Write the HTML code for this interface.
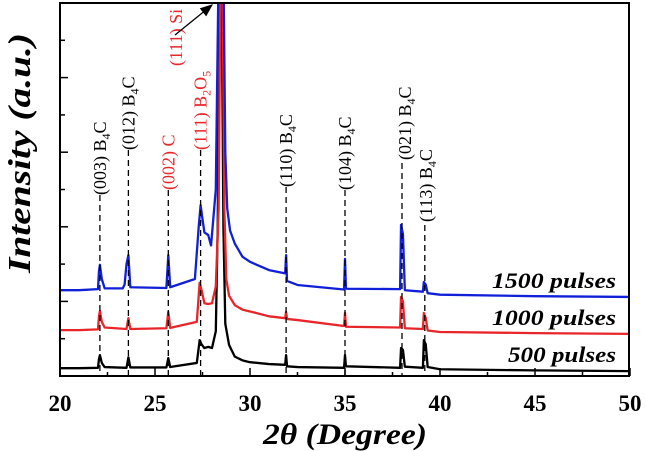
<!DOCTYPE html>
<html><head><meta charset="utf-8"><style>
body{margin:0;background:#fff;}
svg{display:block;font-family:"Liberation Serif",serif;}
</style></head><body>
<svg width="645" height="451" viewBox="0 0 645 451">
<defs><clipPath id="pc"><rect x="60" y="3" width="569" height="373"/></clipPath>
<marker id="ah" markerWidth="10" markerHeight="8" refX="9" refY="4" orient="auto"><path d="M0,0 L10,4 L0,8 z" fill="#000"/></marker></defs>
<g id="lines" clip-path="url(#pc)"></g>
<g id="ann"></g>
<g id="axes"></g>
</svg>
<script>
const xBlack=[20,21,22,22.05,22.1,22.2,22.35,23.5,23.6,23.7,25.6,25.7,25.8,27.2,27.35,27.45,27.6,27.8,28.0,28.2,28.3,28.4,28.5,28.6,28.7,28.9,29.2,29.6,30,31,31.85,31.9,31.95,32.5,34.95,35,35.05,37.9,37.95,38.05,38.15,39.1,39.15,39.25,39.35,40,45,50];
const yBlack=[2.1,2.1,2.2,4.5,5.6,3.5,2.4,2.2,5.0,2.3,2.3,4.8,2.4,3.5,9.6,8.5,7.5,7.8,7.5,12,40,110,110,40,14,8.3,5.2,4.2,3.7,3.2,3.0,5.6,2.6,2.4,2.2,5.6,2.6,2.2,7.5,7.0,2.5,2.2,9.6,8.5,2.4,1.8,1.5,1.3];
const xRed=[20,21,22,22.05,22.1,22.2,22.35,23.5,23.6,23.7,25.6,25.7,25.8,27.2,27.35,27.45,27.6,27.8,28.0,28.2,28.35,28.45,28.55,28.65,28.75,28.9,29.2,29.6,30,31,31.85,31.9,31.95,32.5,34.95,35,35.05,37.9,37.95,38.05,38.15,39.1,39.15,39.25,39.35,40,45,50];
const yRed=[12.3,12.3,12.5,16,17.4,14.5,13,12.6,15.5,12.6,12.8,17.2,12.9,14.5,25,23,19.5,19.3,19.5,24,45,110,110,45,26,21.5,19,17.8,17.3,16,15.5,17.2,15.3,15,13.4,16.9,13.2,13,21.2,20,12.8,12.6,16.9,15.5,12.2,11.8,11.5,11.3];
const xBlue=[20,21,22,22.05,22.1,22.2,22.35,23.3,23.4,23.5,23.6,23.7,25.6,25.7,25.8,27.1,27.3,27.4,27.5,27.6,27.8,27.95,28.2,28.35,28.45,28.6,28.7,28.8,28.95,29.2,29.6,30,31,31.85,31.9,31.95,32.5,34.95,35,35.05,37.9,37.95,38.05,38.15,39.1,39.15,39.25,39.35,40,45,50];
const yBlue=[23,23,23.3,28,29.8,26,23.5,23.5,24.5,30,32.4,23.8,23.6,32.4,23.8,26,40,45.8,42,38.5,37.8,35,50,110,110,110,60,45,39,35.5,32,30.6,28.4,27.5,32.4,25.5,24.4,23.2,31.4,23.4,23.3,40.5,38,23,22.6,25.2,24.5,22.2,21.8,21.4,21.2];
const xTicks=[20,25,30,35,40,45,50];
const markX=[22.1,23.6,25.7,27.4,31.9,35,38,39.2];
const markTop=[195,150,190,150,187,190,163,225];
const labels=[
 {t:"(003) B",s:"4",e:"C",x:22.1,dx:0,yb:195,c:"#000"},
 {t:"(012) B",s:"4",e:"C",x:23.6,dx:0,yb:150,c:"#000"},
 {t:"(002) C",s:"",e:"",x:25.7,dx:0,yb:190,c:"#e8262a"},
 {t:"(111) B",s:"2",e:"O",s2:"5",x:27.4,dx:0,yb:150,c:"#e8262a"},
 {t:"(111) Si",s:"",e:"",x:26.1,dx:0,yb:66,c:"#e8262a"},
 {t:"(110) B",s:"4",e:"C",x:31.9,dx:0,yb:187,c:"#000"},
 {t:"(104) B",s:"4",e:"C",x:35,dx:0,yb:190,c:"#000"},
 {t:"(021) B",s:"4",e:"C",x:38,dx:3,yb:160,c:"#000"},
 {t:"(113) B",s:"4",e:"C",x:39.2,dx:1,yb:222,c:"#000"}
];
const NS="http://www.w3.org/2000/svg";
const X=v=>60+(v-20)*19;
const Y=v=>376-v*3.73;
function mk(tag,attrs,parent){const e=document.createElementNS(NS,tag);for(const k in attrs)e.setAttribute(k,attrs[k]);parent.appendChild(e);return e;}
const L=document.getElementById('lines'),A=document.getElementById('ann'),AX=document.getElementById('axes');
markX.forEach((m,i)=>{const l=mk('line',{x1:X(m),x2:X(m),y1:markTop[i],y2:376,stroke:'#000','stroke-width':1.3,'stroke-dasharray':'6,4'},A);

});
function series(xs,ys,col,name){const p=mk('polyline',{points:xs.map((x,i)=>X(x)+','+Y(ys[i])).join(' '),fill:'none',stroke:col,'stroke-width':2.3,'stroke-linejoin':'round'},L);

}
series(xBlack,yBlack,'#000','series-500-pulses');
series(xRed,yRed,'#e8262a','series-1000-pulses');
series(xBlue,yBlue,'#1020d8','series-1500-pulses');
labels.forEach(o=>{const cx=X(o.x)+o.dx+6;const t=mk('text',{x:0,y:0,transform:`translate(${cx},${o.yb}) rotate(-90)`,'text-anchor':'start','font-size':18,fill:o.c},A);


t.appendChild(document.createTextNode(o.t));
if(o.s){const s=mk('tspan',{dy:4,'font-size':12},t);s.textContent=o.s;}
if(o.e){const s=mk('tspan',{dy:o.s?-4:0},t);s.textContent=o.e;}
if(o.s2){const s=mk('tspan',{dy:4,'font-size':12},t);s.textContent=o.s2;}
});
const ar=mk('line',{x1:175,y1:35,x2:212,y2:5,stroke:'#000','stroke-width':1.3,'marker-end':'url(#ah)'},A);


const fr=mk('rect',{x:60,y:3,width:569,height:373,fill:'none',stroke:'#000','stroke-width':2},AX);


for(let v=20;v<=50;v+=2.5){const maj=(v%5===0);mk('line',{x1:X(v),x2:X(v),y1:376,y2:maj?368:372,stroke:'#000','stroke-width':1.5},AX);}
xTicks.forEach(v=>{const t=mk('text',{x:X(v),y:411,'text-anchor':'middle','font-size':23,'font-weight':'bold'},AX);


t.textContent=v;});
for(let i=1;i<=10;i++){const yy=376-i*37.3;mk('line',{x1:60,x2:i%2===0?68:65,y1:yy,y2:yy,stroke:'#000','stroke-width':1.5},AX);}
const xt=mk('text',{x:263,y:444,'text-anchor':'start','font-size':30,'font-weight':'bold','font-style':'italic',textLength:164,lengthAdjust:'spacingAndGlyphs'},AX);


xt.textContent='2θ (Degree)';
const yt=mk('text',{x:0,y:0,transform:'translate(30,153) rotate(-90)','text-anchor':'middle','font-size':32,'font-weight':'bold','font-style':'italic',textLength:240,lengthAdjust:'spacingAndGlyphs'},AX);


yt.textContent='Intensity (a.u.)';
[['1500 pulses',288,124],['1000 pulses',325,124],['500 pulses',362,108]].forEach(([s,y,w])=>{const t=mk('text',{x:616-w,y:y,'text-anchor':'start','font-size':22,'font-weight':'bold','font-style':'italic',textLength:w,lengthAdjust:'spacingAndGlyphs'},AX);


t.textContent=s;});
</script>
</body></html>
